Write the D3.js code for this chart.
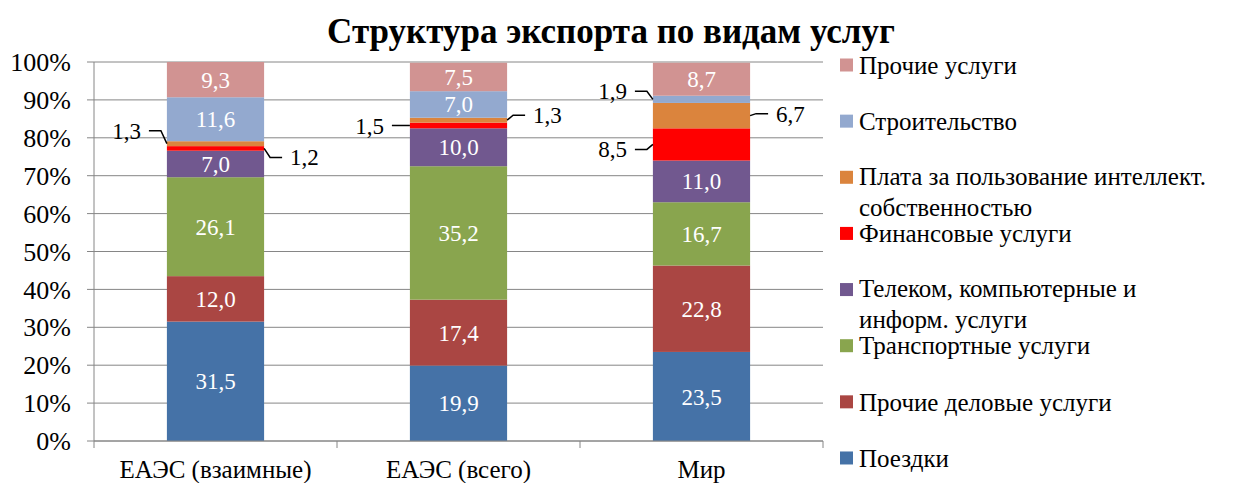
<!DOCTYPE html>
<html><head><meta charset="utf-8">
<script src="https://cdn.jsdelivr.net/npm/d3@7"></script>
</head><body style="margin:0;background:#fff">
<script>
const categories = ["ЕАЭС (взаимные)", "ЕАЭС (всего)", "Мир"];
const seriesNames = ["Поездки", "Прочие деловые услуги", "Транспортные услуги", "Телеком, компьютерные и информ. услуги", "Финансовые услуги", "Плата за пользование интеллект. собственностью", "Строительство", "Прочие услуги"];
const legendLines = [["Поездки"], ["Прочие деловые услуги"], ["Транспортные услуги"], ["Телеком, компьютерные и", "информ. услуги"], ["Финансовые услуги"], ["Плата за пользование интеллект.", "собственностью"], ["Строительство"], ["Прочие услуги"]];
const travel = [31.5, 19.9, 23.5];
const otherBusiness = [12.0, 17.4, 22.8];
const transport = [26.1, 35.2, 16.7];
const telecom = [7.0, 10.0, 11.0];
const financial = [1.2, 1.5, 8.5];
const ipCharges = [1.3, 1.3, 6.7];
const construction = [11.6, 7.0, 1.9];
const otherServices = [9.3, 7.5, 8.7];
const yTicks = [0, 10, 20, 30, 40, 50, 60, 70, 80, 90, 100];
const title = "Структура экспорта по видам услуг";

const seriesValues = [travel, otherBusiness, transport, telecom, financial, ipCharges, construction, otherServices];
const colors = ["#4572A7", "#AA4643", "#89A54E", "#71588F", "#FF0000", "#DB843D", "#93A9CF", "#D19392"];
// Callout layout for small segments: [category, series, side, vertical offset]
const callouts = [[0, 5, "left", -13], [0, 4, "right", 9], [1, 4, "left", 0], [1, 5, "right", -5], [2, 6, "left", -8], [2, 5, "right", -2], [2, 4, "left", 5]];

const W = 1233, H = 483;
const svg = d3.select("body").append("svg").attr("width", W).attr("height", H);
const m = {left: 94, right: 823, top: 62, bottom: 441};
const x = d3.scaleBand().domain(categories).range([m.left, m.right]).paddingInner(0.6).paddingOuter(0.3);
const y = d3.scaleLinear().domain([0, 100]).range([m.bottom, m.top]);
const fmt = v => d3.format(".1f")(v).replace(".", ",");
function addText(parent, px, py, size, str) {
  return parent.append("text").attr("x", px).attr("y", py)
    .attr("font-family", "Liberation Serif").attr("font-size", size).text(str);
}

const rows = categories.map((c, i) => { const r = {cat: c}; seriesNames.forEach((s, k) => r[s] = seriesValues[k][i]); return r; });
const stack = d3.stack().keys(seriesNames)(rows);

// title
addText(svg, 611, 43, 35, title).attr("text-anchor", "middle").attr("font-weight", "bold");

// gridlines
svg.append("g").selectAll("line").data(yTicks).join("line")
  .attr("x1", m.left).attr("x2", m.right).attr("y1", d => y(d)).attr("y2", d => y(d))
  .attr("stroke", "#868686").attr("stroke-width", 1);

// y axis (scale-driven, drawn manually for font control)
const ya = svg.append("g");
ya.append("line").attr("x1", m.left).attr("x2", m.left).attr("y1", y(0)).attr("y2", y(100)).attr("stroke", "#868686");
yTicks.forEach(t => {
  ya.append("line").attr("x1", m.left - 7).attr("x2", m.left).attr("y1", y(t)).attr("y2", y(t)).attr("stroke", "#868686");
  addText(ya, m.left - 23, y(t), 26, t + "%").attr("text-anchor", "end").attr("dy", "0.35em");
});

// bars
svg.append("g").selectAll("g").data(stack).join("g").attr("fill", (d, i) => colors[i])
  .selectAll("rect").data(d => d).join("rect")
  .attr("x", d => x(d.data.cat)).attr("width", x.bandwidth())
  .attr("y", d => y(d[1])).attr("height", d => y(d[0]) - y(d[1]));

// x axis
const xa = svg.append("g");
xa.append("line").attr("x1", m.left).attr("x2", m.right).attr("y1", m.bottom).attr("y2", m.bottom).attr("stroke", "#868686");
const bounds = [m.left].concat(categories.map(c => x(c) + x.bandwidth() + x.step() * x.paddingInner() / 2));
bounds.forEach(b => xa.append("line").attr("x1", b).attr("x2", b).attr("y1", m.bottom).attr("y2", m.bottom + 7).attr("stroke", "#868686"));
categories.forEach(c => addText(xa, x(c) + x.bandwidth() / 2, m.bottom + 37, 25, c).attr("text-anchor", "middle"));

// inside labels
const calloutSet = new Set(callouts.map(c => c[0] + "-" + c[1]));
stack.forEach((s, k) => s.forEach((d, i) => {
  if (calloutSet.has(i + "-" + k)) return;
  addText(svg, x(categories[i]) + x.bandwidth() / 2, y((d[0] + d[1]) / 2), 23, fmt(seriesValues[k][i]))
    .attr("dy", "0.35em").attr("text-anchor", "middle").attr("fill", "#fff");
}));

// callouts
callouts.forEach(([ci, si, side, dy]) => {
  const d = stack[si][ci];
  const ym = y((d[0] + d[1]) / 2);
  const left = side === "left";
  const x0 = left ? x(categories[ci]) : x(categories[ci]) + x.bandwidth();
  const s = left ? -1 : 1;
  const x1 = x0 + s * 6, x2 = x1 + s * 12;
  svg.append("path").attr("d", `M${x0},${ym}L${x1},${ym + dy}L${x2},${ym + dy}`)
    .attr("fill", "none").attr("stroke", "#000").attr("stroke-width", 1.5);
  addText(svg, x2 + s * 8, ym + dy, 23, fmt(seriesValues[si][ci]))
    .attr("dy", "0.35em").attr("text-anchor", left ? "end" : "start");
});

// legend
const lg = svg.append("g");
const order = d3.range(seriesNames.length).reverse();
order.forEach((k, j) => {
  const cy = 65 + j * 56.14;
  lg.append("rect").attr("x", 840).attr("y", cy - 6.5).attr("width", 13).attr("height", 13).attr("fill", colors[k]);
  legendLines[k].forEach((t, li) => addText(lg, 859, cy - (legendLines[k].length - 1) * 1 + li * 31, 25, t).attr("dy", "0.35em"));
});
</script>
</body></html>
